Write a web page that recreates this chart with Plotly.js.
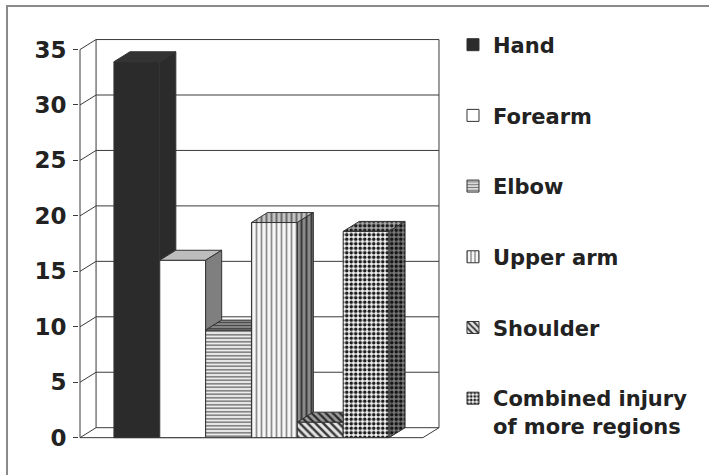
<!DOCTYPE html>
<html>
<head>
<meta charset="utf-8">
<script src="https://cdn.plot.ly/plotly-3.0.1.min.js"></script>
<style>html,body{margin:0;padding:0;background:#fff;}#chart{width:709px;height:475px;}</style>
</head>
<body>
<div id="chart"></div>
<script>
// ---- data ----
const categories = ['Hand', 'Forearm', 'Elbow', 'Upper arm', 'Shoulder', 'Combined injury<br>of more regions'];
const values = [33.9, 16.0, 9.7, 19.4, 1.4, 18.6];
const yTicks = [0, 5, 10, 15, 20, 25, 30, 35];

// ---- styles ----
const frontStyle = [
  {color: '#2b2b2b', pattern: {shape: ''}},
  {color: '#ffffff', pattern: {shape: ''}},
  {color: '#e6e6e6', pattern: {shape: '-', fgcolor: '#7a7a7a', bgcolor: '#ececec', size: 3.5, solidity: 0.45}},
  {color: '#f2f2f2', pattern: {shape: '|', fgcolor: '#8c8c8c', bgcolor: '#f7f7f7', size: 5, solidity: 0.35}},
  {color: '#dddddd', pattern: {shape: '\\', fgcolor: '#3a3a3a', bgcolor: '#e4e4e4', size: 5.5, solidity: 0.45}},
  {color: '#ffffff', pattern: {shape: '.', fgcolor: '#1e1e1e', bgcolor: '#f4f4f4', size: 4.5, solidity: 0.5}}
];
const topStyle = [
  {fill: '#333333'},
  {fill: '#bdbdbd'},
  {fill: '#8a8a8a', pattern: {shape: '-', fgcolor: '#4a4a4a', bgcolor: '#999999', size: 3, solidity: 0.5}},
  {fill: '#bbbbbb', pattern: {shape: '|', fgcolor: '#6a6a6a', bgcolor: '#c4c4c4', size: 5, solidity: 0.4}},
  {fill: '#888888', pattern: {shape: '\\', fgcolor: '#2a2a2a', bgcolor: '#9a9a9a', size: 5, solidity: 0.45}},
  {fill: '#a0a0a0', pattern: {shape: '.', fgcolor: '#1e1e1e', bgcolor: '#aaaaaa', size: 4.5, solidity: 0.5}}
];
const sideStyle = [
  {fill: '#2b2b2b'},
  {fill: '#7f7f7f'},
  {fill: '#666666', pattern: {shape: '-', fgcolor: '#333333', bgcolor: '#777777', size: 3.5, solidity: 0.5}},
  {fill: '#777777', pattern: {shape: '|', fgcolor: '#3a3a3a', bgcolor: '#8a8a8a', size: 5, solidity: 0.4}},
  {fill: '#555555', pattern: {shape: '\\', fgcolor: '#222222', bgcolor: '#666666', size: 5, solidity: 0.45}},
  {fill: '#707070', pattern: {shape: '.', fgcolor: '#151515', bgcolor: '#7a7a7a', size: 4.5, solidity: 0.5}}
];
const edge = '#333333';
const barW = 1;          // bar width in x units
const dx = 0.35;         // 3-D depth offset, x units
const dy = 0.9;          // 3-D depth offset, y units
const frontL = -1.24, frontR = 6.24;
const yTop = yTicks[yTicks.length - 1];

const traces = [];
// front faces as bars
values.forEach((v, i) => {
  traces.push({
    type: 'bar', x: [i], y: [v], width: [barW], name: categories[i],
    legendgroup: 'g' + i,
    marker: {color: frontStyle[i].color, pattern: frontStyle[i].pattern, line: {color: edge, width: 1}},
    hoverinfo: 'name+y'
  });
});
// top and side faces
function poly(xs, ys, st) {
  const t = {type: 'scatter', mode: 'lines', x: xs, y: ys, fill: 'toself', fillcolor: st.fill,
    line: {color: edge, width: 1}, showlegend: false, hoverinfo: 'skip'};
  if (st.pattern) t.fillpattern = Object.assign({fillmode: 'replace'}, st.pattern);
  return t;
}
values.forEach((v, i) => {
  const l = i - barW / 2, r = i + barW / 2;
  const next = i < values.length - 1 ? values[i + 1] : 0;
  if (next >= v) {
    traces.push(poly([l, l + dx, r, r, l], [v, v + dy, v + dy, v, v], topStyle[i]));
  } else {
    traces.push(poly([l, l + dx, r + dx, r, l], [v, v + dy, v + dy, v, v], topStyle[i]));
    traces.push(poly([r, r + dx, r + dx, r, r], [next, next + dy, v + dy, v, next], sideStyle[i]));
  }
});

// walls and grid
const shapes = [];
const gl = {color: '#3a3a3a', width: 1};
yTicks.forEach(t => {
  shapes.push({type: 'line', layer: 'below', xref: 'x', yref: 'y', x0: frontL + dx, x1: frontR + dx, y0: t + dy, y1: t + dy, line: gl});
  shapes.push({type: 'line', layer: 'below', xref: 'x', yref: 'y', x0: frontL, x1: frontL + dx, y0: t, y1: t + dy, line: gl});
});
shapes.push({type: 'line', layer: 'below', xref: 'x', yref: 'y', x0: frontL + dx, x1: frontL + dx, y0: dy, y1: yTop + dy, line: gl});
shapes.push({type: 'line', layer: 'below', xref: 'x', yref: 'y', x0: frontR + dx, x1: frontR + dx, y0: dy, y1: yTop + dy, line: gl});
shapes.push({type: 'line', layer: 'below', xref: 'x', yref: 'y', x0: frontL, x1: frontL, y0: 0, y1: yTop, line: gl});
shapes.push({type: 'line', layer: 'below', xref: 'x', yref: 'y', x0: frontL, x1: frontR, y0: 0, y1: 0, line: gl});
shapes.push({type: 'line', layer: 'below', xref: 'x', yref: 'y', x0: frontR, x1: frontR + dx, y0: 0, y1: dy, line: gl});
// outer frame
shapes.push({type: 'rect', xref: 'paper', yref: 'paper', x0: -0.1994, x1: 1.8, y0: -0.15, y1: 1.082, line: {color: '#8a8a8a', width: 2}, fillcolor: 'rgba(0,0,0,0)'});

const layout = {
  width: 709, height: 475,
  margin: {l: 79, r: 269, t: 39, b: 34},
  paper_bgcolor: '#ffffff', plot_bgcolor: 'rgba(0,0,0,0)',
  barmode: 'overlay',
  showlegend: true,
  font: {family: 'DejaVu Sans, Verdana, sans-serif', color: '#222222'},
  xaxis: {range: [-1.262, 6.612], showgrid: false, zeroline: false, showline: false, showticklabels: false, ticks: '', fixedrange: true},
  yaxis: {range: [-0.3, 35.95], tickvals: yTicks, ticktext: yTicks.map(String), showgrid: false, zeroline: false, showline: false,
          ticks: 'outside', ticklen: 5, tickcolor: '#3a3a3a', tickwidth: 1, ticklabelstandoff: 2,
          tickfont: {size: 23, weight: 'bold', color: '#222222', family: 'DejaVu Sans, Verdana, sans-serif'}, fixedrange: true},
  legend: {x: 1.036, xanchor: 'left', y: 1.036, yanchor: 'top', traceorder: 'grouped', tracegroupgap: 40.4, valign: 'top',
           maxheight: 470,
           font: {size: 21, weight: 'bold', color: '#222222', family: 'DejaVu Sans, Verdana, sans-serif'},
           bgcolor: 'rgba(0,0,0,0)', borderwidth: 0},
  shapes: shapes
};
Plotly.newPlot('chart', traces, layout, {displayModeBar: false, staticPlot: true});
</script>
</body>
</html>
